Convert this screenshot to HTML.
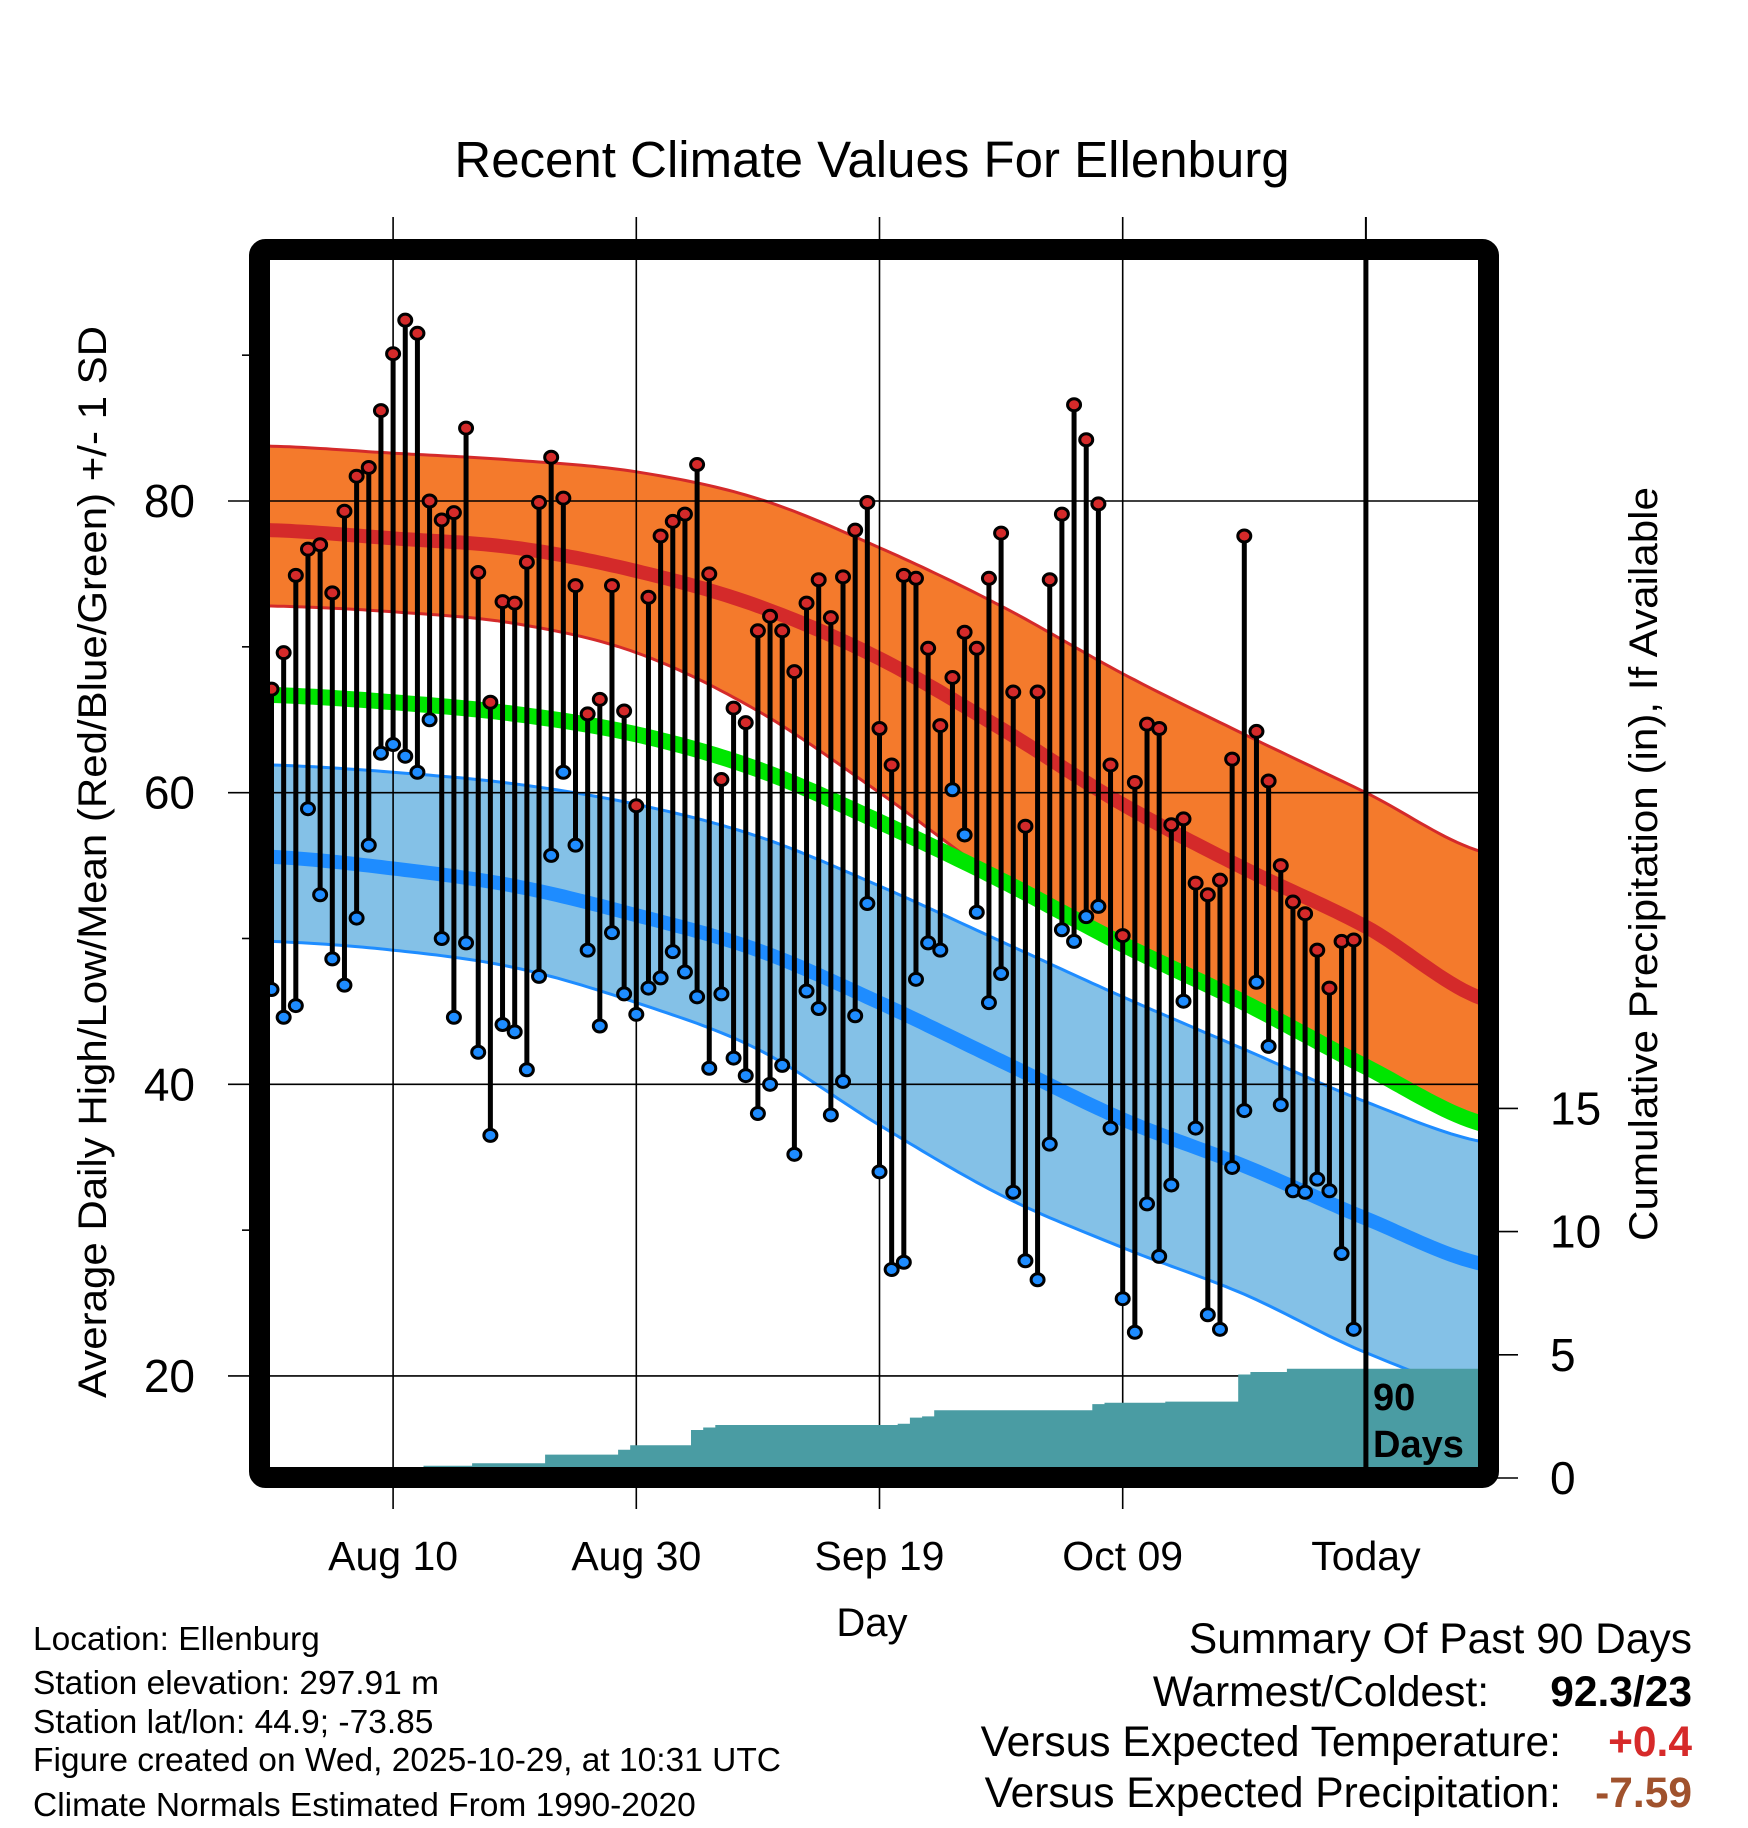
<!DOCTYPE html>
<html><head><meta charset="utf-8"><style>
html,body{margin:0;padding:0;background:#fff;}
svg{display:block;font-family:"Liberation Sans",sans-serif;}
</style></head><body>
<svg id="chart" width="1748" height="1828" viewBox="0 0 1748 1828" xmlns="http://www.w3.org/2000/svg">
<defs><clipPath id="plotclip"><rect x="270" y="260" width="1208" height="1208"/></clipPath></defs>
<text x="872" y="177" font-size="51" text-anchor="middle">Recent Climate Values For Ellenburg</text>
<g id="bands" clip-path="url(#plotclip)"></g>
<g id="grid"></g>
<g id="precip" clip-path="url(#plotclip)"></g>
<g id="marks"></g>
<g id="axes"></g>
<rect x="259.5" y="249.5" width="1229" height="1228" fill="none" stroke="#000" stroke-width="21" rx="6"/>
<text transform="translate(106,862) rotate(-90)" font-size="40" text-anchor="middle" textLength="1072" lengthAdjust="spacingAndGlyphs">Average Daily High/Low/Mean (Red/Blue/Green) +/- 1 SD</text>
<text transform="translate(1657,864) rotate(-90)" font-size="40" text-anchor="middle" textLength="754" lengthAdjust="spacingAndGlyphs">Cumulative Precipitation (in), If Available</text>
<text x="872" y="1636" font-size="40" text-anchor="middle">Day</text>
<text x="1373" y="1410" font-size="38" font-weight="bold">90</text>
<text x="1373" y="1457" font-size="38" font-weight="bold">Days</text>
<g font-size="33.5">
<text x="33" y="1650">Location: Ellenburg</text>
<text x="33" y="1694">Station elevation: 297.91 m</text>
<text x="33" y="1733">Station lat/lon: 44.9; -73.85</text>
<text x="33" y="1771">Figure created on Wed, 2025-10-29, at 10:31 UTC</text>
<text x="33" y="1816">Climate Normals Estimated From 1990-2020</text>
</g>
<g font-size="42.5">
<text x="1692" y="1653" text-anchor="end">Summary Of Past 90 Days</text>
<text x="1489" y="1706" text-anchor="end">Warmest/Coldest:</text>
<text x="1692" y="1706" text-anchor="end" font-weight="bold">92.3/23</text>
<text x="1561" y="1756" text-anchor="end">Versus Expected Temperature:</text>
<text x="1692" y="1756" text-anchor="end" font-weight="bold" fill="#d62a2a">+0.4</text>
<text x="1561" y="1807" text-anchor="end">Versus Expected Precipitation:</text>
<text x="1692" y="1807" text-anchor="end" font-weight="bold" fill="#a0522d">-7.59</text>
</g>
</svg>
<script>
const highs=[67.1,69.6,74.9,76.7,77.0,73.7,79.3,81.7,82.3,86.2,90.1,92.4,91.5,80.0,78.7,79.2,85.0,75.1,66.2,73.1,73.0,75.8,79.9,83.0,80.2,74.2,65.4,66.4,74.2,65.6,59.1,73.4,77.6,78.6,79.1,82.5,75.0,60.9,65.8,64.8,71.1,72.1,71.1,68.3,73.0,74.6,72.0,74.8,78.0,79.9,64.4,61.9,74.9,74.7,69.9,64.6,67.9,71.0,69.9,74.7,77.8,66.9,57.7,66.9,74.6,79.1,86.6,84.2,79.8,61.9,50.2,60.7,64.7,64.4,57.8,58.2,53.8,53.0,54.0,62.3,77.6,64.2,60.8,55.0,52.5,51.7,49.2,46.6,49.8,49.9];
const lows=[46.5,44.6,45.4,58.9,53.0,48.6,46.8,51.4,56.4,62.7,63.3,62.5,61.4,65.0,50.0,44.6,49.7,42.2,36.5,44.1,43.6,41.0,47.4,55.7,61.4,56.4,49.2,44.0,50.4,46.2,44.8,46.6,47.3,49.1,47.7,46.0,41.1,46.2,41.8,40.6,38.0,40.0,41.3,35.2,46.4,45.2,37.9,40.2,44.7,52.4,34.0,27.3,27.8,47.2,49.7,49.2,60.2,57.1,51.8,45.6,47.6,32.6,27.9,26.6,35.9,50.6,49.8,51.5,52.2,37.0,25.3,23.0,31.8,28.2,33.1,45.7,37.0,24.2,23.2,34.3,38.2,47.0,42.6,38.6,32.7,32.6,33.5,32.7,28.4,23.2];
const precipCum=[0,0,0,0,0,0,0,0,0,0,0,0,0,0.5,0.5,0.5,0.5,0.6,0.6,0.6,0.6,0.6,0.6,0.95,0.95,0.95,0.95,0.95,0.95,1.15,1.33,1.33,1.33,1.33,1.33,1.95,2.05,2.15,2.15,2.15,2.15,2.15,2.15,2.15,2.15,2.15,2.15,2.15,2.15,2.15,2.15,2.15,2.2,2.45,2.5,2.75,2.75,2.75,2.75,2.75,2.75,2.75,2.75,2.75,2.75,2.75,2.75,2.75,3.0,3.05,3.05,3.05,3.05,3.05,3.1,3.1,3.1,3.1,3.1,3.1,4.2,4.3,4.3,4.3,4.43,4.43,4.43,4.43,4.43,4.43];
const normDays=[0,10,20,30,40,50,60,70,80,90,100];
const hiUpper=[83.76,83.28,82.8,82.0,80.16,76.8,72.8,68.16,64.0,60.0,55.84];
const hiMean=[78.0,77.44,76.8,75.2,72.8,69.2,64.4,59.2,54.8,50.8,45.76];
const hiLower=[72.8,72.4,71.6,69.6,65.6,60.0,54.0,49.6,45.4,40.8,37.2];
const avgMean=[66.7,66.2,65.4,64.0,61.6,58.0,54.0,49.6,45.6,41.2,37.2];
const loUpper=[61.9,61.4,60.6,59.2,57.0,53.6,49.8,46.0,42.4,38.8,36.0];
const loMean=[55.6,54.8,53.6,51.6,49.2,45.6,41.6,37.6,34.4,30.8,27.6];
const loLower=[49.8,49.2,48.0,45.6,42.4,37.2,32.4,28.8,25.6,21.6,18.8];
const yTicks=[20,40,60,80];
const yMinor=[30,50,70,90];
const pTicks=[0,5,10,15];
const xTickDays=[10,30,50,70,90];
const xTickLabels=["Aug 10","Aug 30","Sep 19","Oct 09","Today"];

const NS="http://www.w3.org/2000/svg";
const X=d=>271.5+d*12.16;
const Y=v=>501+(80-v)*14.583;
const PY=p=>1478-p*24.64;
function mk(tag,attrs,parent){const e=document.createElementNS(NS,tag);for(const k in attrs)e.setAttribute(k,attrs[k]);parent.appendChild(e);return e;}
function interp(arr,d){
  const n=normDays.length;let i=Math.floor(d/10);if(i<0)i=0;if(i>n-2)i=n-2;
  const t=(d-normDays[i])/10;
  const p0=arr[Math.max(i-1,0)],p1=arr[i],p2=arr[i+1],p3=arr[Math.min(i+2,n-1)];
  return 0.5*((2*p1)+(-p0+p2)*t+(2*p0-5*p1+4*p2-p3)*t*t+(-p0+3*p1-3*p2+p3)*t*t*t);
}
function curve(arr){const pts=[];for(let d=-1;d<=100;d+=0.5)pts.push([X(d),Y(interp(arr,d))]);return pts;}
function pathOf(pts){return pts.map((p,i)=>(i?'L':'M')+p[0].toFixed(1)+','+p[1].toFixed(1)).join('');}
function band(up,lo){const a=curve(up),b=curve(lo).reverse();return pathOf(a)+pathOf(b).replace('M','L')+'Z';}

const bands=document.getElementById('bands');
let e;
e=mk('path',{d:band(hiUpper,hiLower),fill:'#f47a2c',stroke:'none'},bands);


e=mk('path',{d:pathOf(curve(hiUpper)),fill:'none',stroke:'#d42a2a','stroke-width':3},bands);


e=mk('path',{d:pathOf(curve(hiLower)),fill:'none',stroke:'#d42a2a','stroke-width':3},bands);


e=mk('path',{d:pathOf(curve(hiMean)),fill:'none',stroke:'#d42a2a','stroke-width':14},bands);


e=mk('path',{d:pathOf(curve(avgMean)),fill:'none',stroke:'#00e600','stroke-width':16},bands);


e=mk('path',{d:band(loUpper,loLower),fill:'#84c1e7',stroke:'none'},bands);


e=mk('path',{d:pathOf(curve(loUpper)),fill:'none',stroke:'#1e8cff','stroke-width':3},bands);


e=mk('path',{d:pathOf(curve(loLower)),fill:'none',stroke:'#1e8cff','stroke-width':3},bands);


e=mk('path',{d:pathOf(curve(loMean)),fill:'none',stroke:'#1e8cff','stroke-width':14},bands);



const grid=document.getElementById('grid'),axes=document.getElementById('axes');
yTicks.forEach(v=>{
  e=mk('line',{x1:228,x2:1478,y1:Y(v),y2:Y(v),stroke:'#000','stroke-width':1.6},grid);
  
  
  e=mk('text',{x:195,y:Y(v)+16,'font-size':46,'text-anchor':'end'},axes);
  e.textContent=v;
  
  
});
yMinor.forEach(v=>{
  e=mk('line',{x1:242,x2:252,y1:Y(v),y2:Y(v),stroke:'#000','stroke-width':1.6},axes);
  
  
});
xTickDays.forEach((d,i)=>{
  if(i<xTickDays.length-1){
    e=mk('line',{x1:X(d),x2:X(d),y1:217,y2:1509,stroke:'#000','stroke-width':1.6},grid);
    
    
  }
  e=mk('text',{x:X(d),y:1570,'font-size':41,'text-anchor':'middle'},axes);
  e.textContent=xTickLabels[i];
  
  
});
pTicks.forEach(p=>{
  e=mk('line',{x1:1497,x2:1518,y1:PY(p),y2:PY(p),stroke:'#000','stroke-width':1.6},axes);
  
  
  e=mk('text',{x:1550,y:PY(p)+16,'font-size':46},axes);
  e.textContent=p;
  
  
});

const pr=document.getElementById('precip');
let pd='M'+X(0)+','+PY(0);
precipCum.forEach((p,i)=>{pd+='L'+X(i-0.5).toFixed(1)+','+PY(p).toFixed(1)+'L'+X(i+0.5).toFixed(1)+','+PY(p).toFixed(1);});
pd+='L1480,'+PY(precipCum[precipCum.length-1]).toFixed(1)+'L1480,'+PY(0)+'Z';
e=mk('path',{d:pd,fill:'#4a9ca3'},pr);



const marks=document.getElementById('marks');
highs.forEach((h,i)=>{
  e=mk('line',{x1:X(i),x2:X(i),y1:Y(h),y2:Y(lows[i]),stroke:'#000','stroke-width':5},marks);
  
  
});
highs.forEach((h,i)=>{
  e=mk('ellipse',{cx:X(i),cy:Y(h),rx:6.5,ry:6,fill:'#d42a2a',stroke:'#000','stroke-width':3},marks);
  
  
  e=mk('ellipse',{cx:X(i),cy:Y(lows[i]),rx:6.5,ry:6,fill:'#1e8cff',stroke:'#000','stroke-width':3},marks);
  
  
});
e=mk('line',{x1:X(90),x2:X(90),y1:217,y2:1480,stroke:'#000','stroke-width':2},axes);


e=mk('line',{x1:X(90),x2:X(90),y1:255,y2:1480,stroke:'#000','stroke-width':5},axes);


</script>
</body></html>
